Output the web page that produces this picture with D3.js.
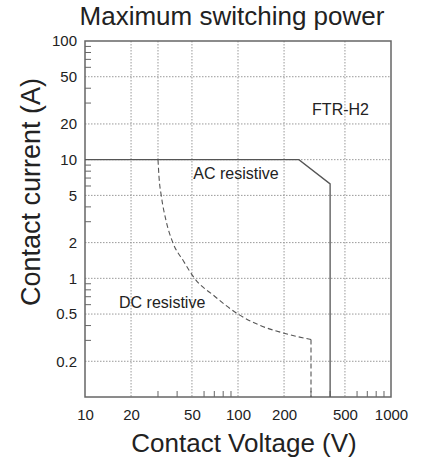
<!DOCTYPE html>
<html>
<head>
<meta charset="utf-8">
<script src="https://cdn.jsdelivr.net/npm/d3@7"></script>
<style>
body { margin: 0; background: #fff; }
text { font-family: "Liberation Sans", Arial, sans-serif; fill: #222; }
</style>
</head>
<body>
<svg width="422" height="461"></svg>
<script>
'use strict';

var xTickValues = [10, 20, 50, 100, 200, 500, 1000];
var yTickValues = [0.2, 0.5, 1, 2, 5, 10, 20, 50, 100];
var xMinor = [30, 40, 60, 70, 80, 90, 300, 400, 600, 700, 800, 900];
var yMinor = [0.3, 0.4, 0.6, 0.7, 0.8, 0.9, 3, 4, 6, 7, 8, 9, 30, 40, 60, 70, 80, 90];
var xGrid = [20, 50, 100, 200, 500];
var yGrid = [0.2, 0.5, 1, 2, 5, 10, 20, 50];
var partGrid = [[30, 100], [30, 10]];

// AC resistive limit (V, A)
var acLine = [[10, 10], [250, 10], [400, 6.25], [400, 0.1]];
// DC resistive limit (V, A)
var dcCurve = [[30, 10], [30.5, 7], [31.5, 5], [34, 3], [37.5, 2], [44, 1.4], [52, 1], [70, 0.71],
	[100, 0.5], [140, 0.4], [200, 0.345], [300, 0.305]];
var dcDrop = [[300, 0.305], [300, 0.1]];

var labels = [
	{text: 'AC resistive', v: 51, a: 6.9},
	{text: 'DC resistive', v: 16.7, a: 0.56},
	{text: 'FTR-H2', v: 305, a: 23.8}
];

var svg = d3.select('svg');
var pLeft = 85, pRight = 391, pTop = 41, pBottom = 397;

var x = d3.scaleLog().domain([10, 1000]).range([pLeft, pRight]);
var y = d3.scaleLog().domain([0.1, 100]).range([pBottom, pTop]);

// grid
svg.selectAll('.vgrid').data(xGrid).enter().append('line')
	.attr('x1', function(d){ return x(d); })
	.attr('x2', function(d){ return x(d); })
	.attr('y1', pTop).attr('y2', pBottom)
	.attr('stroke', '#999').attr('stroke-dasharray', '1.5,1.5');

svg.selectAll('.hgrid').data(yGrid).enter().append('line')
	.attr('y1', function(d){ return y(d); })
	.attr('y2', function(d){ return y(d); })
	.attr('x1', pLeft).attr('x2', pRight)
	.attr('stroke', '#999').attr('stroke-dasharray', '1.5,1.5');

svg.append('line')
	.attr('x1', x(partGrid[0][0])).attr('y1', y(partGrid[0][1]))
	.attr('x2', x(partGrid[1][0])).attr('y2', y(partGrid[1][1]))
	.attr('stroke', '#999').attr('stroke-dasharray', '1.5,1.5');

// minor ticks (inside)
svg.selectAll('.xminor').data(xMinor).enter().append('line')
	.attr('x1', function(d){ return x(d); })
	.attr('x2', function(d){ return x(d); })
	.attr('y1', pBottom).attr('y2', pBottom - 6)
	.attr('stroke', '#666');

svg.selectAll('.yminor').data(yMinor).enter().append('line')
	.attr('y1', function(d){ return y(d); })
	.attr('y2', function(d){ return y(d); })
	.attr('x1', pLeft).attr('x2', pLeft + 6)
	.attr('stroke', '#666');

// frame
svg.append('rect')
	.attr('x', pLeft).attr('y', pTop)
	.attr('width', pRight - pLeft).attr('height', pBottom - pTop)
	.attr('fill', 'none').attr('stroke', '#666').attr('stroke-width', 1.5);

// tick labels
var xAxis = d3.axisBottom(x).tickValues(xTickValues).tickFormat(d3.format('d')).tickSize(0).tickPadding(12);
svg.append('g').attr('transform', 'translate(0,' + pBottom + ')').call(xAxis)
	.attr('font-family', null).attr('font-size', null)
	.call(function(g){ g.select('.domain').remove(); })
	.selectAll('text').style('font-size', '15px').attr('fill', '#222');

var yAxis = d3.axisLeft(y).tickValues(yTickValues).tickFormat(function(d){ return String(d); }).tickSize(0).tickPadding(8);
svg.append('g').attr('transform', 'translate(' + pLeft + ',0)').call(yAxis)
	.attr('font-family', null).attr('font-size', null)
	.call(function(g){ g.select('.domain').remove(); })
	.selectAll('text').style('font-size', '15px').attr('fill', '#222');

// curves
var line = d3.line()
	.x(function(d){ return x(d[0]); })
	.y(function(d){ return y(d[1]); });

svg.append('path').datum(acLine)
	.attr('d', line)
	.attr('fill', 'none').attr('stroke', '#555').attr('stroke-width', 1.3);

svg.append('path').datum(dcCurve)
	.attr('d', line.curve(d3.curveMonotoneX))
	.attr('fill', 'none').attr('stroke', '#555').attr('stroke-width', 1.1)
	.attr('stroke-dasharray', '5,3');

svg.append('path').datum(dcDrop)
	.attr('d', line.curve(d3.curveLinear))
	.attr('fill', 'none').attr('stroke', '#555').attr('stroke-width', 1.1)
	.attr('stroke-dasharray', '5,3');

svg.selectAll('.lbl').data(labels).enter().append('text')
	.attr('x', function(d){ return x(d.v); })
	.attr('y', function(d){ return y(d.a); })
	.style('font-size', '16px')
	.text(function(d){ return d.text; });

// titles
svg.append('text')
	.attr('x', 232).attr('y', 25)
	.attr('text-anchor', 'middle')
	.style('font-size', '26px')
	.text('Maximum switching power');

svg.append('text')
	.attr('x', 244).attr('y', 452)
	.attr('text-anchor', 'middle')
	.style('font-size', '26px')
	.text('Contact Voltage (V)');

svg.append('text')
	.attr('transform', 'translate(40,192) rotate(-90)')
	.attr('text-anchor', 'middle')
	.style('font-size', '27px')
	.text('Contact current (A)');
</script>
</body>
</html>
